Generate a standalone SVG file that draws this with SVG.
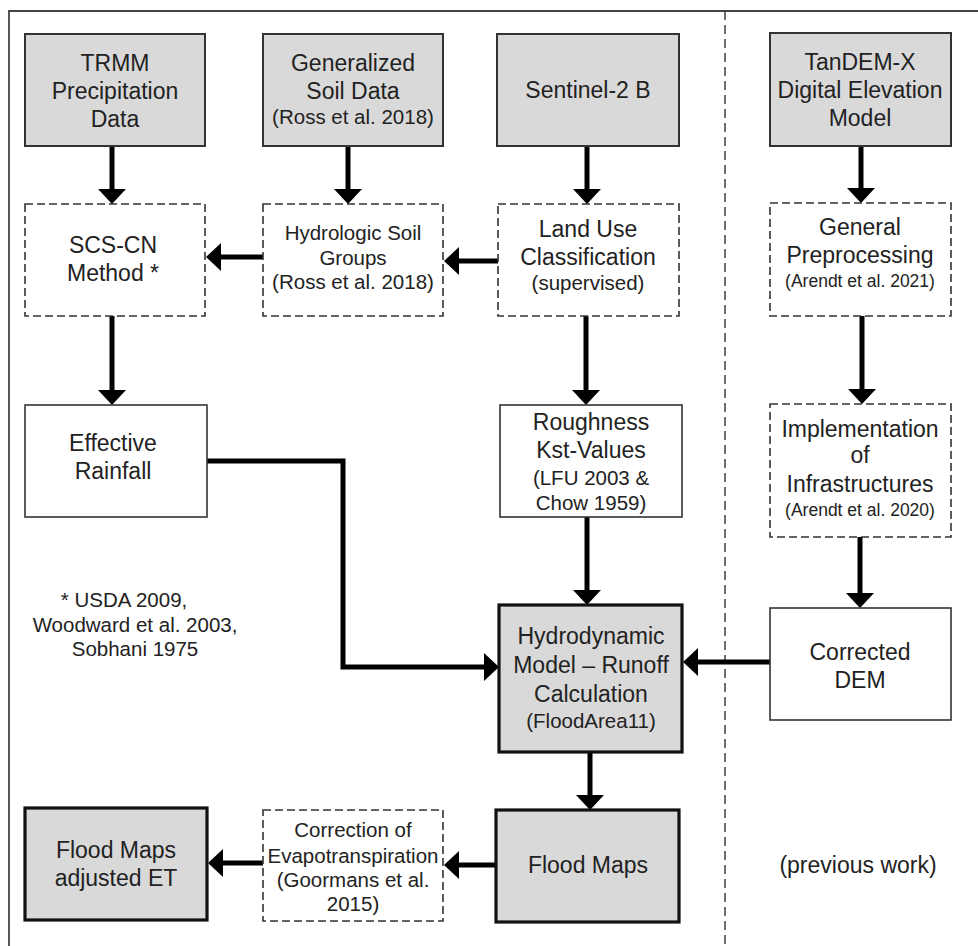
<svg xmlns="http://www.w3.org/2000/svg" width="978" height="946" viewBox="0 0 978 946">
<defs>
<style>
text{font-family:"Liberation Sans",Arial,sans-serif;fill:#222;text-anchor:middle}
.t{font-size:23px}
.s{font-size:20.5px}
.xs{font-size:17.5px}
.src{fill:#d9d9d9;stroke:#333;stroke-width:2}
.dash{fill:#fff;stroke:#333;stroke-width:1.6;stroke-dasharray:8 4}
.plain{fill:#fff;stroke:#333;stroke-width:1.6}
.key{fill:#d9d9d9;stroke:#111;stroke-width:3.2}
.c{fill:none;stroke:#000;stroke-width:5}
</style>
<marker id="ah" markerUnits="userSpaceOnUse" markerWidth="16" markerHeight="28" refX="0" refY="14" orient="auto" viewBox="0 0 16 28">
<path d="M0,0 L15,14 L0,28 Z" fill="#000"/>
</marker>
</defs>
<rect width="978" height="946" fill="#fff"/>
<g id="frame">
<path d="M9,946 V11 H978" fill="none" stroke="#444" stroke-width="1.8"/>
<line x1="725" y1="11" x2="725" y2="946" stroke="#333" stroke-width="1.4" stroke-dasharray="9 5"/>
</g>
<g id="connectors">
<line class="c" x1="112" y1="146" x2="112" y2="189" marker-end="url(#ah)"/>
<line class="c" x1="348" y1="146" x2="348" y2="189" marker-end="url(#ah)"/>
<line class="c" x1="587" y1="146" x2="587" y2="189" marker-end="url(#ah)"/>
<line class="c" x1="861" y1="146" x2="861" y2="188" marker-end="url(#ah)"/>
<line class="c" x1="498" y1="261" x2="459" y2="261" marker-end="url(#ah)"/>
<line class="c" x1="263" y1="257" x2="221" y2="257" marker-end="url(#ah)"/>
<line class="c" x1="112" y1="316" x2="112" y2="390" marker-end="url(#ah)"/>
<line class="c" x1="586" y1="316" x2="586" y2="390" marker-end="url(#ah)"/>
<line class="c" x1="862" y1="316" x2="862" y2="389" marker-end="url(#ah)"/>
<path class="c" d="M207,461 H343 V667 H484" marker-end="url(#ah)"/>
<line class="c" x1="587" y1="517" x2="587" y2="590" marker-end="url(#ah)"/>
<line class="c" x1="860" y1="537" x2="860" y2="593" marker-end="url(#ah)"/>
<line class="c" x1="770" y1="662" x2="698" y2="662" marker-end="url(#ah)"/>
<line class="c" x1="590" y1="752" x2="590" y2="795" marker-end="url(#ah)"/>
<line class="c" x1="496" y1="865" x2="459" y2="865" marker-end="url(#ah)"/>
<line class="c" x1="263" y1="863" x2="223" y2="863" marker-end="url(#ah)"/>
</g>
<g id="trmm">
<rect class="src" x="25" y="34" width="180" height="112"/>
<text class="t" x="115" y="71">TRMM</text>
<text class="t" x="115" y="99">Precipitation</text>
<text class="t" x="115" y="127">Data</text>
</g>
<g id="soil">
<rect class="src" x="263" y="34" width="180" height="112"/>
<text class="t" x="353" y="71">Generalized</text>
<text class="t" x="353" y="99">Soil Data</text>
<text class="s" x="353" y="124">(Ross et al. 2018)</text>
</g>
<g id="sentinel">
<rect class="src" x="497" y="34" width="182" height="112"/>
<text class="t" x="588" y="98">Sentinel-2 B</text>
</g>
<g id="tandem">
<rect class="src" x="770" y="33" width="181" height="113"/>
<text class="t" x="860" y="70">TanDEM-X</text>
<text class="t" x="860" y="98">Digital Elevation</text>
<text class="t" x="860" y="126">Model</text>
</g>
<g id="scscn">
<rect class="dash" x="25" y="204" width="180" height="112"/>
<text class="t" x="113" y="253">SCS-CN</text>
<text class="t" x="113" y="281">Method *</text>
</g>
<g id="hsg">
<rect class="dash" x="263" y="204" width="180" height="112"/>
<text class="s" x="353" y="240">Hydrologic Soil</text>
<text class="s" x="353" y="265">Groups</text>
<text class="s" x="353" y="289">(Ross et al. 2018)</text>
</g>
<g id="landuse">
<rect class="dash" x="498" y="204" width="181" height="112"/>
<text class="t" x="588" y="237">Land Use</text>
<text class="t" x="588" y="265">Classification</text>
<text class="s" x="588" y="290">(supervised)</text>
</g>
<g id="preproc">
<rect class="dash" x="770" y="203" width="181" height="113"/>
<text class="t" x="860" y="235">General</text>
<text class="t" x="860" y="263">Preprocessing</text>
<text class="xs" x="860" y="287">(Arendt et al. 2021)</text>
</g>
<g id="effective">
<rect class="plain" x="25" y="405" width="182" height="112"/>
<text class="t" x="113" y="451">Effective</text>
<text class="t" x="113" y="479">Rainfall</text>
</g>
<g id="roughness">
<rect class="plain" x="500" y="405" width="182" height="112"/>
<text class="t" x="591" y="430">Roughness</text>
<text class="t" x="591" y="458">Kst-Values</text>
<text class="s" x="591" y="485">(LFU 2003 &amp;</text>
<text class="s" x="591" y="510">Chow 1959)</text>
</g>
<g id="infra">
<rect class="dash" x="770" y="404" width="181" height="133"/>
<text class="t" x="860" y="437">Implementation</text>
<text class="t" x="860" y="463">of</text>
<text class="t" x="860" y="492">Infrastructures</text>
<text class="xs" x="860" y="516">(Arendt et al. 2020)</text>
</g>
<g id="footnote">
<text class="s" x="124" y="607">* USDA 2009,</text>
<text class="s" x="135" y="632">Woodward et al. 2003,</text>
<text class="s" x="135" y="656">Sobhani 1975</text>
</g>
<g id="hydro">
<rect class="key" x="499" y="605" width="183" height="147"/>
<text class="t" x="591" y="644">Hydrodynamic</text>
<text class="t" x="591" y="673">Model – Runoff</text>
<text class="t" x="591" y="702">Calculation</text>
<text class="s" x="591" y="728">(FloodArea11)</text>
</g>
<g id="dem">
<rect class="plain" x="770" y="608" width="181" height="112"/>
<text class="t" x="860" y="660">Corrected</text>
<text class="t" x="860" y="688">DEM</text>
</g>
<g id="floodmaps">
<rect class="key" x="496" y="810" width="183" height="112"/>
<text class="t" x="588" y="873">Flood Maps</text>
</g>
<g id="et">
<rect class="dash" x="263" y="810" width="180" height="111"/>
<text class="s" x="353" y="837">Correction of</text>
<text class="s" x="353" y="863">Evapotranspiration</text>
<text class="s" x="353" y="887">(Goormans et al.</text>
<text class="s" x="353" y="911">2015)</text>
</g>
<g id="floodet">
<rect class="key" x="25" y="808" width="182" height="112"/>
<text class="t" x="116" y="858">Flood Maps</text>
<text class="t" x="116" y="886">adjusted ET</text>
</g>
<g id="previous">
<text class="t" x="858" y="873">(previous work)</text>
</g>
</svg>
